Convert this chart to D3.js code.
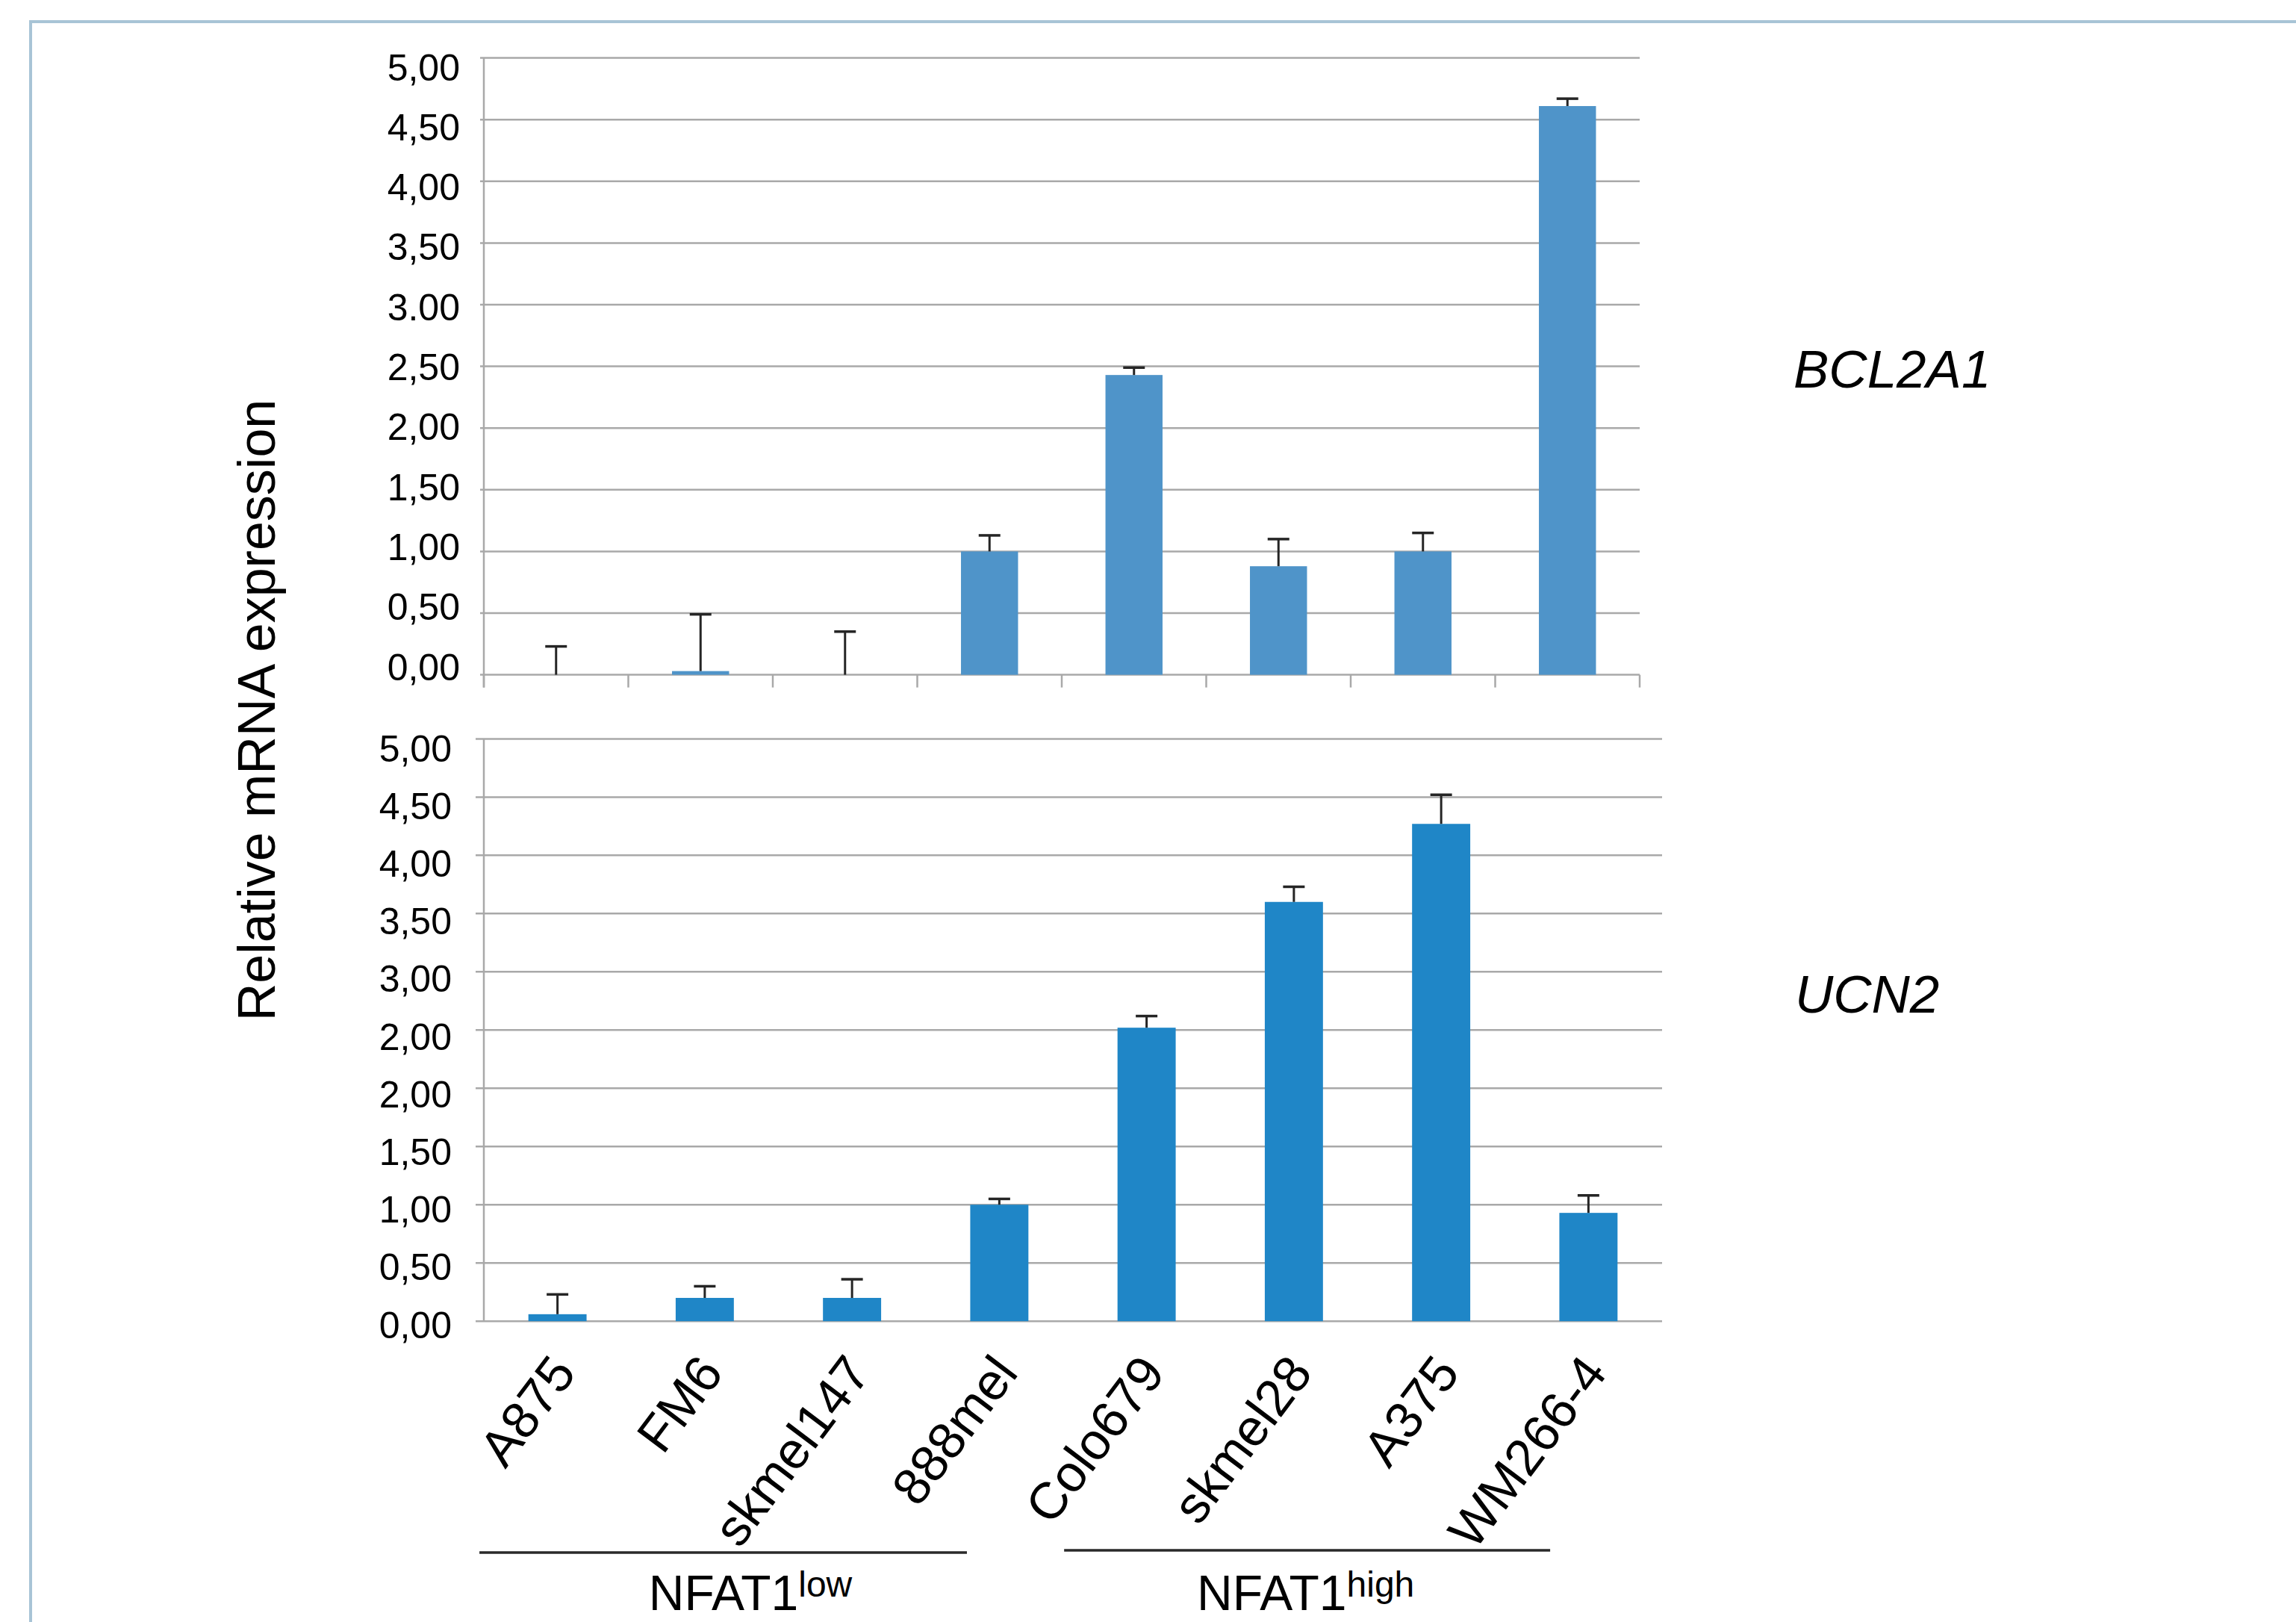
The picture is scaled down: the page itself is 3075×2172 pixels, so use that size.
<!DOCTYPE html>
<html>
<head>
<meta charset="utf-8">
<script src="https://cdn.jsdelivr.net/npm/d3@7"></script>
<style>
  html, body { margin: 0; padding: 0; background: #ffffff; }
  svg { display: block; }
</style>
</head>
<body>
<svg id="chart" width="3075" height="2172"></svg>
<script>
// ---------------- DATA ----------------
const cellLines = ["A875", "FM6", "skmel147", "888mel", "Colo679", "skmel28", "A375", "WM266-4"];

const bcl2a1Values = [0.00, 0.03, 0.00, 1.00, 2.43, 0.88, 1.00, 4.61];
const bcl2a1Errors = [0.23, 0.46, 0.35, 0.13, 0.06, 0.22, 0.15, 0.06];

const ucn2Values = [0.06, 0.20, 0.20, 1.00, 2.52, 3.60, 4.27, 0.93];
const ucn2Errors = [0.17, 0.10, 0.16, 0.05, 0.10, 0.13, 0.25, 0.15];

const yTickValues = [0, 0.5, 1, 1.5, 2, 2.5, 3, 3.5, 4, 4.5, 5];
const bcl2a1TickLabels = ["0,00", "0,50", "1,00", "1,50", "2,00", "2,50", "3.00", "3,50", "4,00", "4,50", "5,00"];
const ucn2TickLabels   = ["0,00", "0,50", "1,00", "1,50", "2,00", "2,00", "3,00", "3,50", "4,00", "4,50", "5,00"];

const geneNames = ["BCL2A1", "UCN2"];
const yAxisTitle = "Relative mRNA expression";
const groupBase = ["NFAT1", "NFAT1"];
const groupSup = ["low", "high"];

// ---------------- STYLE / LAYOUT ----------------
const FONT = "'Liberation Sans', Arial, Helvetica, sans-serif";
const GRID = "#a9a9a9";
const ERR = "#252525";

const svg = d3.select("#chart");

// light frame
svg.append("rect")
  .attr("x", 41).attr("y", 29)
  .attr("width", 3200).attr("height", 2300)
  .attr("fill", "none")
  .attr("stroke", "#a8c4d6")
  .attr("stroke-width", 4);

function drawPanel(cfg) {
  const x = d3.scaleBand()
    .domain(cellLines)
    .range([cfg.left, cfg.right])
    .paddingInner(0.605)
    .paddingOuter(0.3025);
  const y = d3.scaleLinear().domain([0, 5]).range([cfg.bottom, cfg.top]);
  const yLab = d3.scaleLinear().domain([0, 5]).range(cfg.labelRange);

  const g = svg.append("g");

  // gridlines
  g.selectAll("line.grid")
    .data(yTickValues)
    .join("line")
    .attr("class", "grid")
    .attr("x1", cfg.left - cfg.stub)
    .attr("x2", cfg.right)
    .attr("y1", d => y(d))
    .attr("y2", d => y(d))
    .attr("stroke", GRID)
    .attr("stroke-width", 2.5);

  // y axis line
  g.append("line")
    .attr("x1", cfg.left).attr("x2", cfg.left)
    .attr("y1", y(5)).attr("y2", y(0) + cfg.xTick)
    .attr("stroke", GRID).attr("stroke-width", 2.5);

  // category boundary ticks
  if (cfg.xTick > 0) {
    const bounds = d3.range(cellLines.length + 1).map(i => x.range()[0] + i * x.step());
    g.selectAll("line.xt")
      .data(bounds)
      .join("line")
      .attr("class", "xt")
      .attr("x1", d => d).attr("x2", d => d)
      .attr("y1", y(0)).attr("y2", y(0) + cfg.xTick)
      .attr("stroke", GRID).attr("stroke-width", 2.5);
  }

  // y tick labels
  const ax = d3.axisLeft(yLab)
    .tickValues(yTickValues)
    .tickSize(0)
    .tickPadding(0)
    .tickFormat((d, i) => cfg.labels[i]);
  const ag = g.append("g")
    .attr("transform", `translate(${cfg.labelX},0)`)
    .call(ax);
  ag.select(".domain").remove();
  ag.selectAll("text")
    .attr("font-family", FONT)
    .attr("font-size", 50)
    .attr("fill", "#000");

  // bars
  const rows = cellLines.map((c, i) => ({ c, v: cfg.values[i], e: cfg.errors[i] }));
  g.selectAll("rect.bar")
    .data(rows.filter(r => r.v > 0))
    .join("rect")
    .attr("class", "bar")
    .attr("x", d => x(d.c))
    .attr("width", x.bandwidth())
    .attr("y", d => y(d.v))
    .attr("height", d => y(0) - y(d.v))
    .attr("fill", cfg.color);

  // error bars
  const capHalf = 14.5;
  const eg = g.selectAll("g.err").data(rows).join("g").attr("class", "err");
  eg.append("line")
    .attr("x1", d => x(d.c) + x.bandwidth() / 2)
    .attr("x2", d => x(d.c) + x.bandwidth() / 2)
    .attr("y1", d => y(d.v))
    .attr("y2", d => y(d.v + d.e))
    .attr("stroke", ERR).attr("stroke-width", 3);
  eg.append("line")
    .attr("x1", d => x(d.c) + x.bandwidth() / 2 - capHalf)
    .attr("x2", d => x(d.c) + x.bandwidth() / 2 + capHalf)
    .attr("y1", d => y(d.v + d.e))
    .attr("y2", d => y(d.v + d.e))
    .attr("stroke", ERR).attr("stroke-width", 3.5);

  // gene label
  g.append("text")
    .attr("x", cfg.geneX).attr("y", cfg.geneY)
    .attr("font-family", FONT)
    .attr("font-style", "italic")
    .attr("font-size", 71)
    .attr("fill", "#000")
    .text(cfg.gene);

  return { x, y };
}

const topPanel = drawPanel({
  left: 648, right: 2196, top: 77.6, bottom: 903.6,
  stub: 5, xTick: 17,
  labelX: 616, labelRange: [894, 91],
  labels: bcl2a1TickLabels,
  values: bcl2a1Values, errors: bcl2a1Errors,
  color: "#4f94c9",
  gene: geneNames[0], geneX: 2402, geneY: 519
});

const bottomPanel = drawPanel({
  left: 648, right: 2226, top: 989.4, bottom: 1769.2,
  stub: 11, xTick: 0,
  labelX: 605, labelRange: [1775, 1003],
  labels: ucn2TickLabels,
  values: ucn2Values, errors: ucn2Errors,
  color: "#1f86c7",
  gene: geneNames[1], geneX: 2404, geneY: 1356
});

// category labels (rotated) under bottom panel
const xa = d3.axisBottom(bottomPanel.x).tickSize(0).tickPadding(0);
const xg = svg.append("g")
  .attr("transform", `translate(0,${bottomPanel.y(0)})`)
  .call(xa);
xg.select(".domain").remove();
xg.selectAll("text")
  .attr("font-family", FONT)
  .attr("font-size", 69)
  .attr("fill", "#000")
  .attr("x", 0).attr("y", 0).attr("dy", 0)
  .attr("text-anchor", "end")
  .attr("transform", "translate(27,70) rotate(-53)");

// group lines & labels
const step = bottomPanel.x.step();
const x0 = bottomPanel.x.range()[0];
const groupSpans = [[x0 - 0.03 * step, x0 + 3.28 * step], [x0 + 3.94 * step, x0 + 7.24 * step]];
const groupTextX = [x0 + 1.81 * step, x0 + 5.58 * step];
const lineY = [2079, 2076];

groupSpans.forEach((s, i) => {
  svg.append("line")
    .attr("x1", s[0]).attr("x2", s[1])
    .attr("y1", lineY[i]).attr("y2", lineY[i])
    .attr("stroke", "#2a2a2a").attr("stroke-width", 3.5);
  const t = svg.append("text")
    .attr("x", groupTextX[i]).attr("y", 2156)
    .attr("text-anchor", "middle")
    .attr("font-family", FONT)
    .attr("font-size", 66)
    .attr("fill", "#000");
  t.append("tspan").text(groupBase[i]);
  t.append("tspan").attr("dy", -18).attr("font-size", 48).text(groupSup[i]);
});

// y axis title
svg.append("text")
  .attr("transform", "translate(368,951) rotate(-90)")
  .attr("text-anchor", "middle")
  .attr("font-family", FONT)
  .attr("font-size", 70)
  .attr("fill", "#000")
  .text(yAxisTitle);
</script>
</body>
</html>
